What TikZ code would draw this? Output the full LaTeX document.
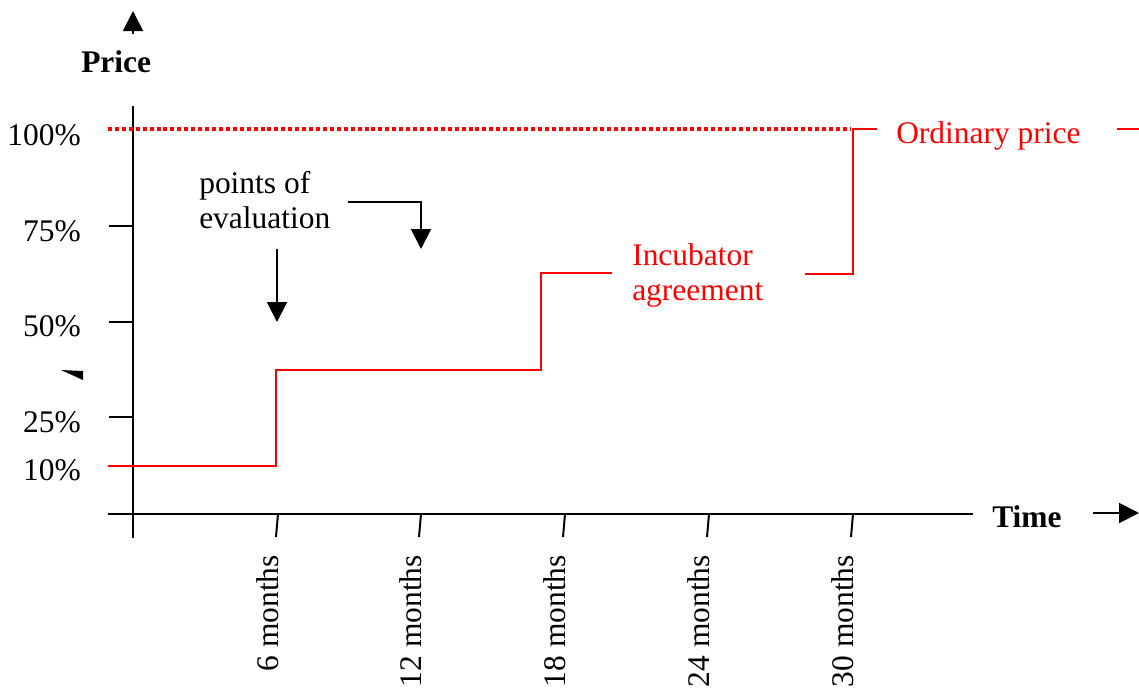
\documentclass[tikz,border=0pt]{standalone}
\usepackage{fontspec}
\setmainfont{Liberation Serif}
\usetikzlibrary{arrows.meta}
\begin{document}
\begin{tikzpicture}[x=0.75pt,y=-0.75pt,
  ax/.style={line width=1.5pt},
  redstep/.style={draw=red, line width=1.5pt},
  reddot/.style={draw=red, line width=2.6pt, dash pattern=on 3pt off 2.2pt},
  lbl/.style={font=\fontsize{23.6}{28}\selectfont, inner sep=0pt},
  blbl/.style={font=\fontsize{23.6}{28}\selectfont\bfseries, inner sep=0pt},
  rlbl/.style={lbl, text=red},
  head/.style={-{Triangle[width=15pt,length=15pt]}, line width=1.5pt},
]
\useasboundingbox (0,0) rectangle (1139,690);

% axes
\coordinate (yt) at (133,106);
\coordinate (yb) at (133,538);
\coordinate (xl) at (108,514);
\coordinate (xr) at (973,514);
\draw[ax] (yt) -- (yb);
\draw[ax] (xl) -- (xr);

% y ticks
\foreach \y in {226,322,417} \draw[ax] (109,\y) -- (133,\y);
% x ticks
\foreach \x in {277,420,564,708,852} \draw[ax] (\x+1,514) -- (\x-1,537);

% axis arrows
\coordinate (pa1) at (133,34);
\coordinate (pa2) at (133,11);
\draw[head] (pa1) -- (pa2);
\coordinate (ta1) at (1093,513);
\coordinate (ta2) at (1139,513);
\draw[head] (ta1) -- (ta2);

% small wedge
\fill (61,370) -- (83,371) -- (83,380) -- cycle;

% axis labels
\node[blbl, anchor=base west] (price) at (81,72) {Price};
\node[blbl, anchor=base west] (time) at (992,527) {Time};

% percent labels
\node[lbl, anchor=base east] (p100) at (81,145) {100\%};
\node[lbl, anchor=base east] (p75) at (81,241) {75\%};
\node[lbl, anchor=base east] (p50) at (81,336) {50\%};
\node[lbl, anchor=base east] (p25) at (81,432) {25\%};
\node[lbl, anchor=base east] (p10) at (81,480) {10\%};

% month labels
\node[lbl, rotate=90, anchor=base east] (m6) at (278,555) {6 months};
\node[lbl, rotate=90, anchor=base east] (m12) at (421,555) {12 months};
\node[lbl, rotate=90, anchor=base east] (m18) at (565,555) {18 months};
\node[lbl, rotate=90, anchor=base east] (m24) at (709,555) {24 months};
\node[lbl, rotate=90, anchor=base east] (m30) at (853,555) {30 months};

% points of evaluation
\node[lbl, anchor=base west] (ev1) at (199,193) {points of};
\node[lbl, anchor=base west] (ev2) at (199,228) {evaluation};
\coordinate (a1s) at (277,249);
\coordinate (a1e) at (277,322);
\draw[head] (a1s) -- (a1e);
\coordinate (a2s) at (348,202);
\coordinate (a2m) at (421,202);
\coordinate (a2e) at (421,249);
\draw[head] (a2s) -- (a2m) -- (a2e);

% red lines
\draw[reddot] (108,129) -- (850,129);
\draw[redstep] (108,466) -- (276,466) -- (276,370) -- (541,370) -- (541,273) -- (612,273);
\draw[redstep] (805,274) -- (853,274) -- (853,129) -- (877,129);
\draw[redstep] (1117,129) -- (1139,129);

\node[rlbl, anchor=base west] (inc1) at (632,265) {Incubator};
\node[rlbl, anchor=base west] (inc2) at (632,300) {agreement};
\node[rlbl, anchor=base west] (ord) at (896,143) {Ordinary price};
\end{tikzpicture}
\end{document}
